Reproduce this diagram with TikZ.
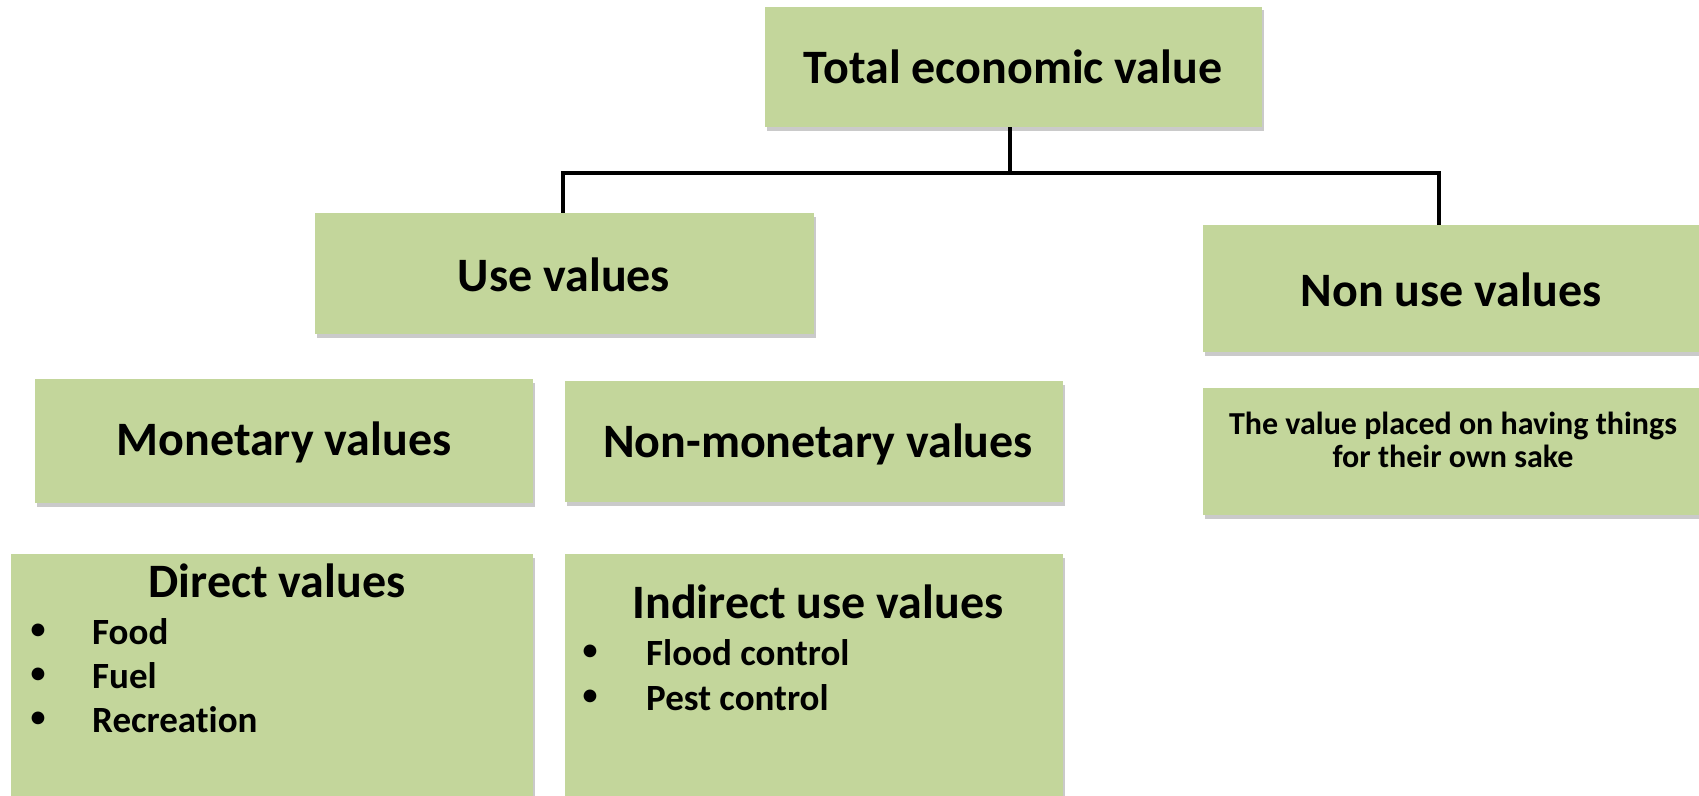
\documentclass[tikz,border=0pt]{standalone}
\usepackage{fontspec}
\setmainfont{Carlito}[Ligatures=NoCommon]
\usetikzlibrary{shadows}
\definecolor{boxgreen}{HTML}{C3D69B}
\tikzset{
  box/.style={rectangle, fill=boxgreen, anchor=north west, inner sep=0pt,
    drop shadow={shadow xshift=2pt, shadow yshift=-3.5pt, opacity=0.35, fill=black!60}},
  lbl/.style={font=\bfseries, inner sep=0pt, align=center},
  ttl/.style={lbl, font=\fontsize{48}{56}\selectfont\bfseries},
  itm/.style={lbl, anchor=west, font=\fontsize{37}{44}\selectfont\bfseries},
  bul/.style={lbl, font=\fontsize{36}{44}\selectfont},
  conn/.style={line width=4.5pt, black},
}
\begin{document}
\begin{tikzpicture}[x=1pt,y=-1pt]
\useasboundingbox (0,0) rectangle (1699,795);
% boxes
\node[box, minimum width=497pt, minimum height=120.5pt] (tev) at (765,6.5) {};
\node[box, minimum width=499pt, minimum height=121pt] (use) at (315,213) {};
\node[box, minimum width=500pt, minimum height=127pt] (nonuse) at (1203,225) {};
\node[box, minimum width=498pt, minimum height=124pt] (mon) at (35,379) {};
\node[box, minimum width=498pt, minimum height=121pt] (nonmon) at (565,381) {};
\node[box, minimum width=500pt, minimum height=127pt] (desc) at (1203,388) {};
\node[box, minimum width=522pt, minimum height=250pt] (direct) at (11,554) {};
\node[box, minimum width=498pt, minimum height=250pt] (indirect) at (565,554) {};
% texts
\node[ttl] (tevt) at (1013,67) {Total economic value};
\node[ttl] (uset) at (564,275) {Use values};
\node[ttl] (nonuset) at (1451,290) {Non use values};
\node[ttl] (mont) at (284,442) {Monetary values};
\node[ttl] (nonmont) at (818,444) {Non-monetary values};
\node[lbl, font=\fontsize{32}{32.5}\selectfont\bfseries] (desct) at (1453,440) {The value placed on having things\\for their own sake};
\node[ttl] (directt) at (277,581) {Direct values};
\node[ttl] (indirectt) at (818,602) {Indirect use values};
% bullets
\foreach \t/\yy/\n in {Food/632/a, Fuel/676/b, Recreation/720/c}{
  \node[bul] (db\n) at (38,\yy) {•};
  \node[itm] (dt\n) at (92,\yy) {\t};
}
\foreach \t/\yy/\n in {Flood control/653/a, Pest control/698/b}{
  \node[bul] (ib\n) at (590,\yy) {•};
  \node[itm] (it\n) at (646,\yy) {\t};
}
% connectors
\coordinate (hub) at (1010,173);
\coordinate (jl) at (563,173);
\coordinate (jr) at (1439,173);
\draw[conn] (tev.south -| hub) -- (hub);
\draw[conn] ([xshift=-2.25pt]jl) -- ([xshift=2.25pt]jr);
\draw[conn] (jl) -- (jl |- use.north);
\draw[conn] (jr) -- (jr |- nonuse.north);
\end{tikzpicture}
\end{document}
